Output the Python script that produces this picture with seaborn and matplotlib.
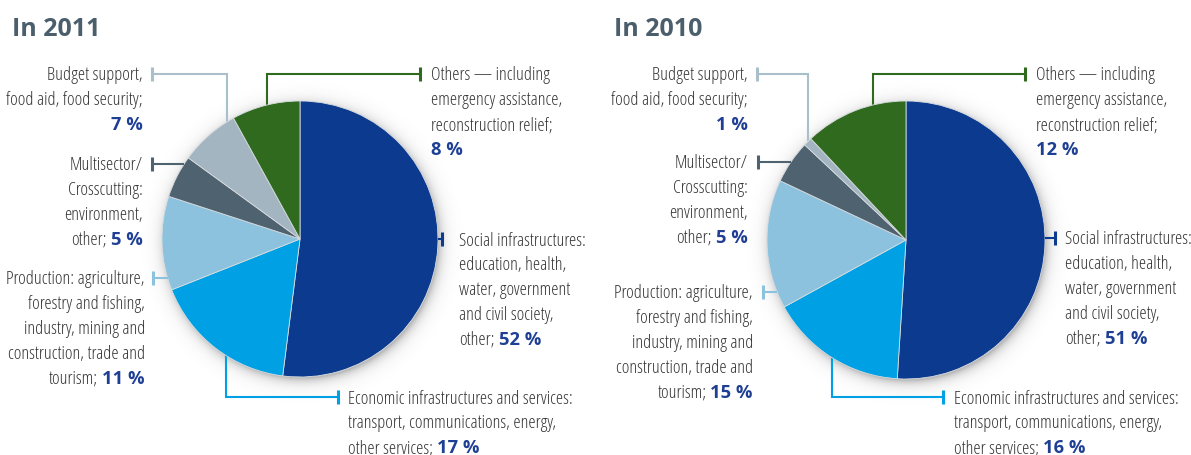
import numpy as np
import matplotlib
matplotlib.use("Agg")
import matplotlib.pyplot as plt
import seaborn as sns

# Sector shares of aid, clockwise from 12 o'clock
categories = [
    "Social infrastructures",
    "Economic infrastructures and services",
    "Production",
    "Multisector/Crosscutting",
    "Budget support",
    "Others",
]
share_2011 = [52, 17, 11, 5, 7, 8]
share_2010 = [51, 16, 15, 5, 1, 12]
titles = ["In 2011", "In 2010"]

label_texts = [
    "Social infrastructures:\neducation, health,\nwater, government\nand civil society,\nother;",
    "Economic infrastructures and services:\ntransport, communications, energy,\nother services;",
    "Production: agriculture,\nforestry and fishing,\nindustry, mining and\nconstruction, trade and\ntourism;",
    "Multisector/\nCrosscutting:\nenvironment,\nother;",
    "Budget support,\nfood aid, food security;\n",
    "Others \u2014 including\nemergency assistance,\nreconstruction relief;\n",
]

wedge_colors = ["#0c3a8f", "#00a0e4", "#8cc2de", "#4f6270", "#a3b5c1", "#2f6a1e"]
line_colors = ["#0c3a8f", "#00a0e4", "#8cc2de", "#4f6270", "#a9bfcc", "#2f6a1e"]

sns.set_theme(style="white")
plt.rcParams["font.family"] = ["Open Sans", "DejaVu Sans"]
plt.rcParams["font.stretch"] = "condensed"

W, H = 1191, 455
fig = plt.figure(figsize=(W / 100, H / 100), dpi=100)
ax = fig.add_axes([0, 0, 1, 1])

TEXT_C = "#363636"
PCT_C = "#1f3f95"
FS = 13.2
LS = 24.8

# Per pie: centre, radius, title x, and for each sector
# (tick x, tick y, elbow x or None, text x, alignment)
pies = [
    dict(values=share_2011, title=titles[0], cx=300, cy=239, r=138, tx=12,
         labels=[(442, 239, None, 459, "left"),
                 (338, 397, 226, 348, "left"),
                 (153, 278, None, 145, "right"),
                 (152, 164, None, 143, "right"),
                 (152, 74, 227, 143, "right"),
                 (420, 74, 267, 431, "left")]),
    dict(values=share_2010, title=titles[1], cx=906, cy=240, r=139, tx=614,
         labels=[(1055, 238, None, 1065, "left"),
                 (943, 397, 832, 954, "left"),
                 (763, 292, None, 753, "right"),
                 (758, 162, None, 748, "right"),
                 (757, 74, 808, 748, "right"),
                 (1025, 74, 873, 1036, "left")]),
]

TEXT_DY = 1.5  # text line centres sit slightly below the tick marks

for p in pies:
    cx, cy, r = p["cx"], p["cy"], p["r"]

    # soft drop shadow under the pie
    pad = 26
    x0, x1 = cx - r - pad, cx + r + pad
    y0, y1 = cy - r - pad, cy + r + pad
    X, Y = np.meshgrid(np.arange(x0, x1) + 0.5, np.arange(y0, y1) + 0.5)
    d = np.hypot(X - cx - 2, Y - cy - 3)
    alpha = 0.36 * np.exp(-np.maximum(d - r + 2, 0) / 5.5)
    rgba = np.zeros(d.shape + (4,))
    rgba[..., :3] = 0.25
    rgba[..., 3] = alpha
    ax.imshow(rgba, extent=(x0, x1, y1, y0), zorder=1, interpolation="bilinear")

    ax.pie(p["values"], colors=wedge_colors, startangle=270, counterclock=True,
           center=(cx, cy), radius=r, frame=True,
           wedgeprops=dict(linewidth=0.6, edgecolor="#d8dde0", zorder=2))

    ax.text(p["tx"], 30, p["title"], ha="left", va="center",
            fontsize=18, fontweight="bold", color="#4a5e6c",
            family=["Open Sans", "DejaVu Sans"], fontstretch="normal")

    for k, (tkx, tky, ex, txx, align) in enumerate(p["labels"]):
        lc = line_colors[k]
        # leader line
        if ex is None:
            dx = np.sqrt(max(r * r - (tky - cy) ** 2, 0))
            edge_x = cx + dx if tkx > cx else cx - dx
            ax.plot([tkx, edge_x], [tky, tky], color=lc, lw=1.5, zorder=3,
                    solid_capstyle="butt")
        else:
            dy = np.sqrt(max(r * r - (ex - cx) ** 2, 0))
            edge_y = cy - dy if tky < cy else cy + dy
            ax.plot([tkx, ex, ex], [tky, tky, edge_y], color=lc, lw=1.5,
                    zorder=1.5, solid_capstyle="butt", solid_joinstyle="miter")
        ax.plot([tkx, tkx], [tky - 7, tky + 7], color=lc, lw=2.2, zorder=3,
                solid_capstyle="butt")

        # label text, percentage in bold blue on the last line
        lines = label_texts[k].split("\n")
        y_first = tky + TEXT_DY
        for i, line in enumerate(lines[:-1]):
            ax.text(txx, y_first + i * LS, line, ha=align, va="center",
                    fontsize=FS, color=TEXT_C)
        ly = y_first + (len(lines) - 1) * LS
        prefix = lines[-1]
        pct = f"{p['values'][k]} %"
        if align == "right":
            pt = ax.text(txx, ly, pct, ha="right", va="center", fontsize=FS,
                         fontweight="bold", color=PCT_C)
            if prefix:
                ax.annotate(prefix, xy=(0, 0.5), xycoords=pt, xytext=(-3, 0),
                            textcoords="offset points", ha="right", va="center",
                            fontsize=FS, color=TEXT_C)
        else:
            if prefix:
                t = ax.text(txx, ly, prefix, ha="left", va="center",
                            fontsize=FS, color=TEXT_C)
                ax.annotate(pct, xy=(1, 0.5), xycoords=t, xytext=(3, 0),
                            textcoords="offset points", ha="left", va="center",
                            fontsize=FS, fontweight="bold", color=PCT_C)
            else:
                ax.text(txx, ly, pct, ha="left", va="center", fontsize=FS,
                        fontweight="bold", color=PCT_C)

ax.set_xlim(0, W)
ax.set_ylim(H, 0)
ax.set_aspect("equal")
ax.axis("off")

fig.savefig("out.png", dpi=100, facecolor="white")
